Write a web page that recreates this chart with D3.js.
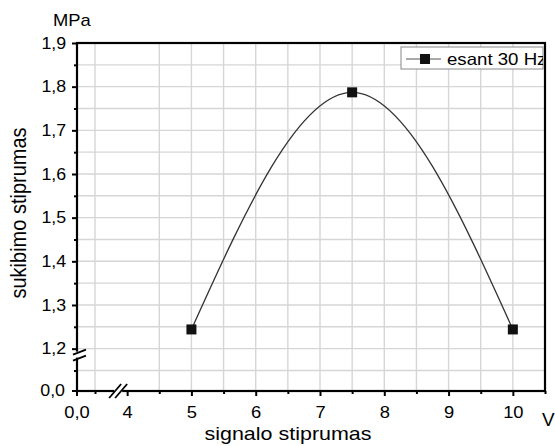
<!DOCTYPE html>
<html><head><meta charset="utf-8">
<script src="https://cdn.jsdelivr.net/npm/d3@7"></script>
<style>
body{margin:0;background:#fff;}
text{font-family:"Liberation Sans",Arial,sans-serif;fill:#000;}
</style></head>
<body><svg id="c" width="555" height="446"></svg>
<script>
// ---- data ----
const seriesName = "esant 30 Hz";
const xValues = [5, 7.5, 10];
const yValues = [1.244, 1.787, 1.244];
const xTicks = [4, 5, 6, 7, 8, 9, 10];
const xTickLabels = ["4", "5", "6", "7", "8", "9", "10"];
const xMinorTicks = [3.5, 4.5, 5.5, 6.5, 7.5, 8.5, 9.5, 10.5];
const xGrid = [3.5, 4.5, 5, 5.5, 6, 6.5, 7, 7.5, 8, 8.5, 9, 9.5, 10];
const yTicks = [1.2, 1.3, 1.4, 1.5, 1.6, 1.7, 1.8, 1.9];
const yTickLabels = ["1,2", "1,3", "1,4", "1,5", "1,6", "1,7", "1,8", "1,9"];
const yMinorTicks = [1.15, 1.25, 1.35, 1.45, 1.55, 1.65, 1.75, 1.85];
const yGrid = [1.15, 1.2, 1.25, 1.3, 1.35, 1.4, 1.45, 1.5, 1.55, 1.6, 1.65, 1.7, 1.75, 1.8, 1.85];
const xOriginLabel = "0,0", yOriginLabel = "0,0";
const xOrigin = 3.22, yOrigin = 1.103;
const xTitle = "signalo stiprumas", yTitle = "sukibimo stiprumas";
const xUnit = "V", yUnit = "MPa";

// ---- layout ----
const L = 77, R = 545, T = 43, B = 391;
const SX = 1.08; // horizontal stretch of lettering
const svg = d3.select("#c");
const x = d3.scaleLinear().domain([xOrigin, 10.5]).range([L, R]);
const y = d3.scaleLinear().domain([yOrigin, 1.9]).range([B, T]);

function txt(parent, px, py, str, size, anchor, sx, dy) {
  return parent.append("text").attr("transform", `translate(${px},${py}) scale(${sx},1)`)
    .attr("text-anchor", anchor || "start").attr("dy", dy || 0)
    .style("font-size", size + "px").text(str);
}

// grid
svg.append("g").selectAll("line").data(xGrid).join("line")
  .attr("x1", d => x(d)).attr("x2", d => x(d)).attr("y1", T).attr("y2", B)
  .attr("stroke", "#d6d6d6").attr("stroke-width", 1.4);
svg.append("g").selectAll("line").data(yGrid).join("line")
  .attr("y1", d => y(d)).attr("y2", d => y(d)).attr("x1", L).attr("x2", R)
  .attr("stroke", "#d6d6d6").attr("stroke-width", 1.4);

// axes
const xAxis = d3.axisBottom(x).tickValues(xTicks).tickFormat((d, i) => xTickLabels[i]).tickSize(5).tickPadding(10).tickSizeOuter(0);
const gx = svg.append("g").attr("transform", `translate(0,${B})`).call(xAxis);
gx.select(".domain").remove();
gx.selectAll(".tick line").attr("stroke", "#000").attr("stroke-width", 2);
gx.selectAll(".tick text").style("font-size", "17px").attr("font-family", null).attr("fill", "#000")
  .attr("transform", `scale(${SX},1)`);
const xAxisMinor = d3.axisBottom(x).tickValues(xMinorTicks).tickFormat("").tickSize(3).tickSizeOuter(0);
const gxm = svg.append("g").attr("transform", `translate(0,${B})`).call(xAxisMinor);
gxm.select(".domain").remove();
gxm.selectAll(".tick line").attr("stroke", "#000").attr("stroke-width", 2);

const yAxis = d3.axisLeft(y).tickValues(yTicks).tickFormat((d, i) => yTickLabels[i]).tickSize(5).tickPadding(5).tickSizeOuter(0);
const gy = svg.append("g").attr("transform", `translate(${L},0)`).call(yAxis);
gy.select(".domain").remove();
gy.selectAll(".tick line").attr("stroke", "#000").attr("stroke-width", 2);
gy.selectAll(".tick text").style("font-size", "16.5px").attr("font-family", null).attr("fill", "#000")
  .attr("transform", `scale(${SX},1)`);
const yAxisMinor = d3.axisLeft(y).tickValues(yMinorTicks).tickFormat("").tickSize(3).tickSizeOuter(0);
const gym = svg.append("g").attr("transform", `translate(${L},0)`).call(yAxisMinor);
gym.select(".domain").remove();
gym.selectAll(".tick line").attr("stroke", "#000").attr("stroke-width", 2);

// origin ticks and labels
svg.append("line").attr("x1", L - 5).attr("x2", L).attr("y1", B).attr("y2", B).attr("stroke", "#000").attr("stroke-width", 2);
svg.append("line").attr("x1", L).attr("x2", L).attr("y1", B).attr("y2", B + 5).attr("stroke", "#000").attr("stroke-width", 2);
txt(svg, L - 12, B, yOriginLabel, 16.5, "end", SX, "0.32em");
txt(svg, L, B + 15, xOriginLabel, 17, "middle", SX, "0.71em");

// frame
svg.append("rect").attr("x", L).attr("y", T).attr("width", R - L).attr("height", B - T)
  .attr("fill", "none").attr("stroke", "#000").attr("stroke-width", 2.2);

// axis breaks
function brkX(cx, cy) {
  const g = svg.append("g");
  g.append("rect").attr("x", cx - 4).attr("y", cy - 4).attr("width", 8).attr("height", 8).attr("fill", "#fff");
  [-3, 3].forEach(o => {
    g.append("line").attr("x1", cx - 6 + o).attr("y1", cy + 7).attr("x2", cx + 6 + o).attr("y2", cy - 7)
      .attr("stroke", "#000").attr("stroke-width", 1.8);
  });
}
function brkY(cx, cy) {
  const g = svg.append("g");
  g.append("rect").attr("x", cx - 4).attr("y", cy - 3).attr("width", 8).attr("height", 6).attr("fill", "#fff");
  [-3, 3].forEach(o => {
    g.append("line").attr("x1", cx - 6).attr("y1", cy + 3 + o).attr("x2", cx + 7).attr("y2", cy - 2 + o)
      .attr("stroke", "#000").attr("stroke-width", 1.8);
  });
}
brkX(x(3.86), B);
brkY(L + 2, y(1.2) + 6);

// curve
const pts = xValues.map((d, i) => [x(d), y(yValues[i])]);
svg.append("path").attr("d", d3.line().curve(d3.curveNatural)(pts))
  .attr("fill", "none").attr("stroke", "#333").attr("stroke-width", 1.3);
svg.append("g").selectAll("rect").data(pts).join("rect")
  .attr("x", d => d[0] - 5).attr("y", d => d[1] - 5).attr("width", 10).attr("height", 10).attr("fill", "#111");

// legend
svg.append("defs").append("clipPath").attr("id", "lgclip").append("rect")
  .attr("x", 401).attr("y", 47).attr("width", 142).attr("height", 22);
const lg = svg.append("g");
lg.append("rect").attr("x", 401).attr("y", 47).attr("width", 142).attr("height", 22)
  .attr("fill", "#fff").attr("stroke", "#888").attr("stroke-width", 1);
lg.append("line").attr("x1", 406).attr("x2", 441).attr("y1", 59).attr("y2", 59).attr("stroke", "#555").attr("stroke-width", 1.2);
lg.append("rect").attr("x", 420).attr("y", 54).attr("width", 10).attr("height", 10).attr("fill", "#111");
const lgt = lg.append("g").attr("clip-path", "url(#lgclip)");
txt(lgt, 447, 59, seriesName + ")", 16.5, "start", 1.13, "0.35em");

// titles
txt(svg, 288, 440, xTitle, 19, "middle", 1.13);
svg.append("text").attr("transform", `translate(26,213) rotate(-90) scale(1,1.1)`).attr("text-anchor", "middle")
  .style("font-size", "20px").text(yTitle);
txt(svg, 53, 26, yUnit, 16, "start", 1.15);
txt(svg, 542, 426, xUnit, 18, "start", 1.05);
</script></body></html>
